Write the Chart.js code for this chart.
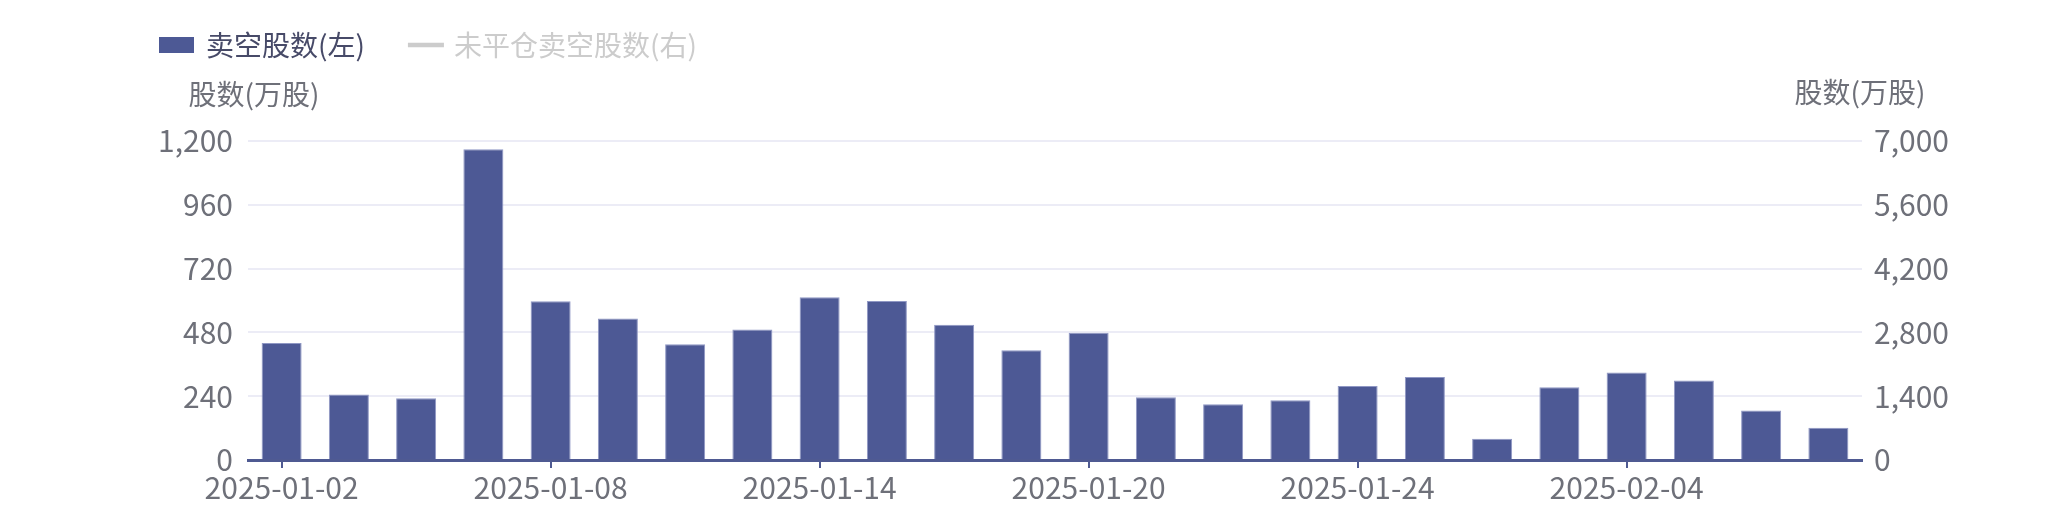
<!DOCTYPE html>
<html lang="zh-CN">
<head>
<meta charset="utf-8">
<title>卖空股数</title>
<script src="https://cdn.jsdelivr.net/npm/chart.js@4.4.1/dist/chart.umd.min.js"></script>
<style>
  html, body { margin: 0; padding: 0; background: #fff; }
  #wrap { width: 2065px; height: 509px; }
</style>
</head>
<body>
<div id="wrap"><canvas id="shortChart"></canvas></div>
<script>
const dates = ['2025-01-02', '2025-01-03', '2025-01-06', '2025-01-07', '2025-01-08', '2025-01-09',
  '2025-01-10', '2025-01-13', '2025-01-14', '2025-01-15', '2025-01-16', '2025-01-17',
  '2025-01-20', '2025-01-21', '2025-01-22', '2025-01-23', '2025-01-24', '2025-01-27',
  '2025-01-28', '2025-02-03', '2025-02-04', '2025-02-05', '2025-02-06', '2025-02-07'];
const shortShares = [440, 246, 232, 1169, 597, 532, 435, 491, 612, 598, 509, 413,
  479, 236, 210, 225, 278, 312, 80, 274, 329, 299, 186, 121];
// 未平仓卖空股数 is switched off in the picture, so no values can be read
const openShortShares = [];
const leftTicks = [0, 240, 480, 720, 960, 1200];
const rightTicks = [0, 1400, 2800, 4200, 5600, 7000];
const seriesNames = ['卖空股数(左)', '未平仓卖空股数(右)'];
const axisName = '股数(万股)';

const barColor = '#4d5995';
const axisColor = '#4f5a92';
const labelColor = '#6e7079';
const offColor = '#cccccc';
const fontFamily = '"Noto Sans CJK SC", "Noto Sans", sans-serif';

// legend + axis names drawn above the plot
const headerText = {
  id: 'headerText',
  afterDraw(chart) {
    const ctx = chart.ctx;
    const area = chart.chartArea;
    ctx.save();
    ctx.font = '28px ' + fontFamily;
    ctx.textBaseline = 'middle';
    ctx.textAlign = 'left';

    let x = 159;
    const y = 45;
    ctx.fillStyle = barColor;
    ctx.fillRect(x, y - 8, 35, 16);
    ctx.fillStyle = '#474a68';
    ctx.fillText(seriesNames[0], x + 47, y);

    x = x + 47 + ctx.measureText(seriesNames[0]).width + 43;
    ctx.strokeStyle = offColor;
    ctx.lineWidth = 4.5;
    ctx.beginPath();
    ctx.moveTo(x, y);
    ctx.lineTo(x + 36, y);
    ctx.stroke();
    ctx.fillStyle = offColor;
    ctx.fillText(seriesNames[1], x + 46, y);

    ctx.fillStyle = labelColor;
    ctx.textAlign = 'center';
    ctx.fillText(axisName, area.left + 6, 94);
    ctx.fillText(axisName, area.right - 2, 92);
    ctx.restore();
  }
};

const ctx = document.getElementById('shortChart');

new Chart(ctx, {
  data: {
    labels: dates,
    datasets: [{
      type: 'bar',
      label: seriesNames[0],
      data: shortShares,
      backgroundColor: barColor,
      borderColor: '#8f97c4',
      borderWidth: 1,
      barPercentage: 0.595,
      categoryPercentage: 1,
      yAxisID: 'y'
    }, {
      type: 'line',
      label: seriesNames[1],
      data: openShortShares,
      borderColor: offColor,
      hidden: true,
      yAxisID: 'y1'
    }]
  },
  plugins: [headerText],
  options: {
    responsive: true,
    maintainAspectRatio: false,
    animation: false,
    layout: {
      padding: { top: 141, bottom: 1, left: 0, right: 0 }
    },
    plugins: {
      legend: { display: false },
      tooltip: { enabled: false }
    },
    scales: {
      x: {
        offset: true,
        grid: {
          offset: false,
          drawOnChartArea: false,
          drawTicks: true,
          tickLength: 8,
          lineWidth: 2,
          tickColor: (c) => c.index % 4 === 0 ? axisColor : 'rgba(0,0,0,0)'
        },
        border: { color: axisColor, width: 3 },
        ticks: {
          autoSkip: false,
          maxRotation: 0,
          padding: 2,
          color: labelColor,
          font: { family: fontFamily, size: 30 },
          callback: (v, i) => i % 4 === 0 ? dates[i] : ''
        }
      },
      y: {
        position: 'left',
        min: leftTicks[0],
        max: leftTicks[leftTicks.length - 1],
        afterFit: (s) => { s.width = 248; },
        grid: { color: '#ececf6', lineWidth: 2, drawTicks: false },
        border: { display: false },
        ticks: {
          stepSize: leftTicks[1] - leftTicks[0],
          padding: 15,
          color: labelColor,
          font: { family: fontFamily, size: 30 },
          callback: (v) => v.toLocaleString('en-US')
        }
      },
      y1: {
        position: 'right',
        display: true,
        min: rightTicks[0],
        max: rightTicks[rightTicks.length - 1],
        afterFit: (s) => { s.width = 203; },
        grid: { drawOnChartArea: false, drawTicks: false },
        border: { display: false },
        ticks: {
          stepSize: rightTicks[1] - rightTicks[0],
          padding: 12,
          color: labelColor,
          font: { family: fontFamily, size: 30 },
          callback: (v) => v.toLocaleString('en-US')
        }
      }
    }
  }
});
</script>
</body>
</html>
